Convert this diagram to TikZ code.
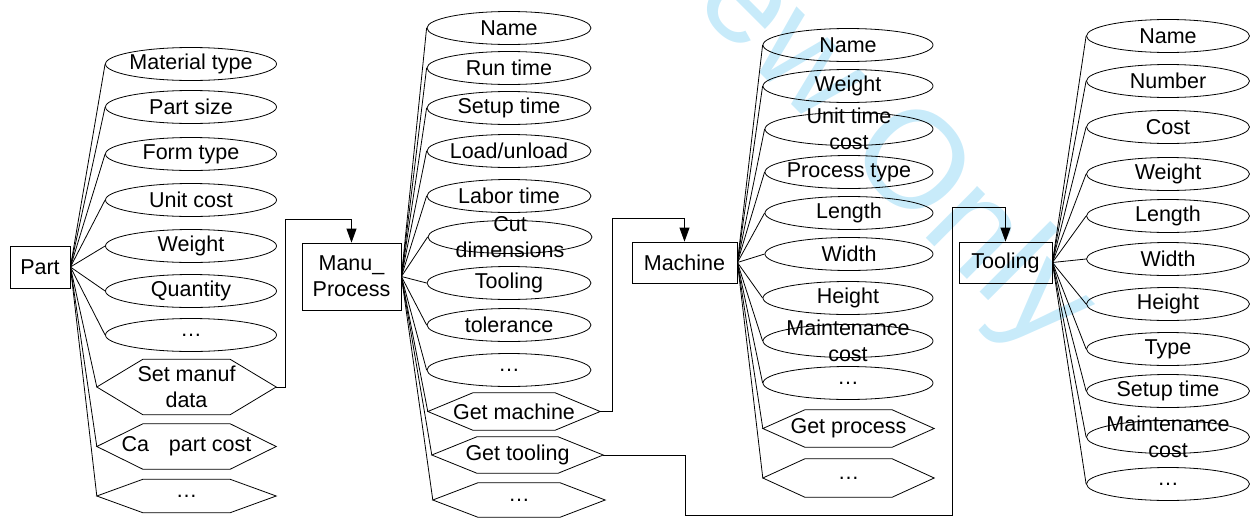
\documentclass[tikz,border=0pt]{standalone}
\usepackage{fontspec}
\setmainfont{Liberation Sans}
\usetikzlibrary{shapes.geometric,arrows.meta}
\definecolor{wm}{RGB}{200,235,250}
\newcommand\ellN[5]{%
  \node[ell, minimum width=#4pt] (#1) at (#2,#3) {};
  \node[lbl] (#1-t) at (#1.center) {#5};}
\newcommand\hexN[7]{%
  \node[minimum width=#4pt, minimum height=#5pt, inner sep=0pt] (#1) at (#2,#3) {};
  \draw[con] (#1.west) -- ([xshift=#6pt]#1.north west) -- ([xshift=-#6pt]#1.north east) -- (#1.east) -- ([xshift=-#6pt]#1.south east) -- ([xshift=#6pt]#1.south west) -- cycle;
  \node[lbl] (#1-t) at (#1.center) {#7};}
\begin{document}
\begin{tikzpicture}[x=1pt,y=-1pt,
  lbl/.style={font=\fontsize{21.5}{26}\selectfont, align=center, inner sep=0pt},
  ell/.style={ellipse, draw, line width=0.8pt, inner sep=0pt, minimum height=33pt},
  box/.style={rectangle, draw, line width=0.8pt, inner sep=0pt, align=center, font=\fontsize{21.5}{26}\selectfont},
  con/.style={line width=0.8pt},
  arr/.style={line width=0.8pt, -{Triangle[width=10pt,length=14pt]}}
]
\useasboundingbox (0,0) rectangle (1250,517);
% watermark
\begin{scope}
\clip (0,0) rectangle (1250,517);
\node[text=wm, draw=none, font=\fontsize{138}{138}\selectfont, rotate=-45, inner sep=0pt] (wmk) at (893,155) {ew Only};
\end{scope}

% ---- Part column
\node[box, minimum width=60pt, minimum height=42pt] (part) at (40,267) {Part};
\ellN{p1}{191}{64}{171}{Material type}
\ellN{p2}{191}{107}{171}{Part size}
\ellN{p3}{191}{154}{171}{Form type}
\ellN{p4}{191}{200}{171}{Unit cost}
\ellN{p5}{191}{246}{171}{Weight}
\ellN{p6}{191}{291}{171}{Quantity}
\ellN{p7}{191}{335}{171}{…}
\hexN{p8}{186.5}{387}{179}{55}{46}{Set manuf\\data}
\hexN{p9}{186.5}{446.5}{179}{45}{46}{Ca\hspace{14pt} part cost}
\hexN{p10}{186.5}{496}{179}{33}{46}{…}
\foreach \i in {1,...,10} \draw[con] (part.east) -- (p\i.west);

% ---- Manu_Process column
\node[box, minimum width=99pt, minimum height=67pt] (manu) at (351.5,276.5) {Manu\_\\Process};
\ellN{m1}{509}{28}{164}{Name}
\ellN{m2}{509}{68}{164}{Run time}
\ellN{m3}{509}{108}{164}{Setup time}
\ellN{m4}{509}{151}{164}{Load/unload}
\ellN{m5}{509}{196}{164}{Labor time}
\ellN{m6}{510}{237}{164}{Cut\\dimensions}
\ellN{m7}{509}{283}{164}{Tooling}
\ellN{m8}{509}{325}{164}{tolerance}
\ellN{m9}{509}{370}{164}{…}
\hexN{m10}{514}{411.5}{172}{37}{45}{Get machine}
\hexN{m11}{517.5}{455}{171}{36}{45}{Get tooling}
\hexN{m12}{519}{500}{172}{34}{45}{…}
\foreach \i in {1,...,12} \draw[con] (manu.east) -- (m\i.west);

% ---- Machine column
\node[box, minimum width=105pt, minimum height=41pt] (mach) at (684.5,262.5) {Machine};
\ellN{c1}{848}{45}{170}{Name}
\ellN{c2}{848}{86}{170}{Weight}
\ellN{c3}{849}{129}{168}{Unit time\\cost}
\ellN{c4}{849}{172}{168}{Process type}
\ellN{c5}{849}{213}{168}{Length}
\ellN{c6}{849}{254}{168}{Width}
\ellN{c7}{848}{298}{170}{Height}
\ellN{c8}{848}{341}{170}{Maintenance\\cost}
\ellN{c9}{848}{383}{170}{…}
\hexN{c10}{848.5}{428.5}{171}{37}{42}{Get process}
\hexN{c11}{848.5}{478}{171}{38}{42}{…}
\foreach \i in {1,...,11} \draw[con] (mach.east) -- (c\i.west);

% ---- Tooling column
\node[box, minimum width=93pt, minimum height=41pt] (tool) at (1005.5,262.5) {Tooling};
\ellN{t1}{1168}{36}{163}{Name}
\ellN{t2}{1168}{81}{163}{Number}
\ellN{t3}{1168}{127}{163}{Cost}
\ellN{t4}{1168}{174}{163}{Weight}
\ellN{t5}{1168}{216}{163}{Length}
\ellN{t6}{1168}{259}{163}{Width}
\ellN{t7}{1168}{304}{163}{Height}
\ellN{t8}{1168}{349}{163}{Type}
\ellN{t9}{1168}{391}{163}{Setup time}
\ellN{t10}{1168}{437}{163}{Maintenance\\cost}
\ellN{t11}{1168}{484}{163}{…}
\foreach \i in {1,...,11} \draw[con] (tool.east) -- (t\i.west);

% ---- links
\draw[arr] (p8.east) -- ++(9,0) |- ([yshift=23pt]manu.north) -- (manu.north);
\draw[arr] (m10.east) -- ++(12,0) |- ([yshift=23pt]mach.north) -- (mach.north);
\coordinate (g1) at (685,515);
\coordinate (g2) at (952,207);
\draw[arr] (m11.east) -| (g1) -| (g2) -| (tool.north);
\end{tikzpicture}
\end{document}
